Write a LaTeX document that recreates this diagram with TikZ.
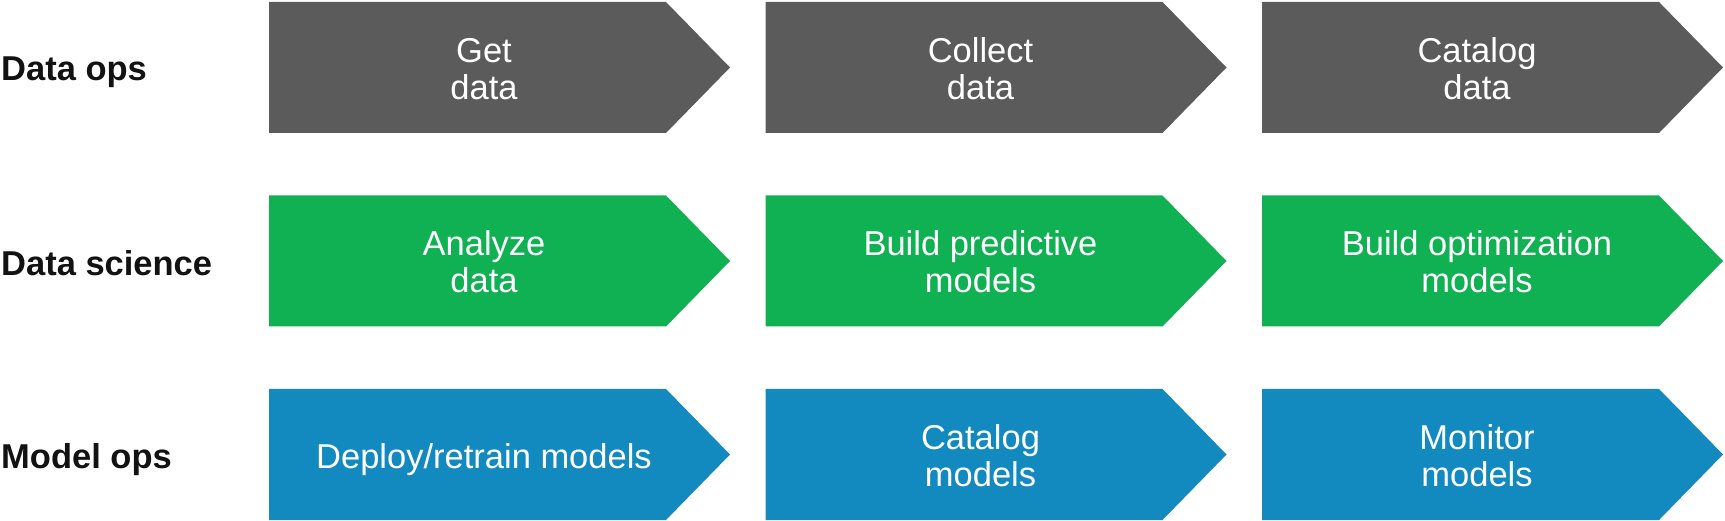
\documentclass[tikz,border=0pt]{standalone}
\usepackage{fontspec}
\setmainfont{Liberation Sans}
\definecolor{opsgray}{HTML}{5B5B5B}
\definecolor{scigreen}{HTML}{0FB152}
\definecolor{modblue}{HTML}{128ABF}
\begin{document}
\begin{tikzpicture}[x=1pt,y=-1pt,
    rowlabel/.style={anchor=west, font=\fontsize{34.5}{37}\selectfont\bfseries, text=black!93,
      inner sep=0pt, text depth=0pt},
    boxtext/.style={align=center, text=white, inner sep=0pt, text depth=0pt,
      font=\fontsize{34.5}{37}\selectfont}]
  \useasboundingbox (0,0) rectangle (1725,521);
  % 箭头形色块（三行三列）
  \foreach \y/\c in {2/opsgray, 195.5/scigreen, 389/modblue} {
    \foreach \x in {269, 765.5, 1262} {
      \fill[\c] (\x,\y) -- ++(397,0) -- ++(64,65.5) -- ++(-64,65.5) -- ++(-397,0) -- cycle;
    }
  }
  % 行标题
  \node[rowlabel] (dataops) at (1,69) {Data ops};
  \node[rowlabel] (datasci) at (1,263) {Data science};
  \node[rowlabel] (modelops) at (1,456) {Model ops};
  % 第一行
  \node[boxtext] (getdata) at (484,68.5) {Get\\data};
  \node[boxtext] (collectdata) at (980.5,68.5) {Collect\\data};
  \node[boxtext] (catdata) at (1477,68.5) {Catalog\\data};
  % 第二行
  \node[boxtext] (analyze) at (484,262) {Analyze\\data};
  \node[boxtext] (predictive) at (980.5,262) {Build predictive\\models};
  \node[boxtext] (optimize) at (1477,262) {Build optimization\\models};
  % 第三行
  \node[boxtext] (deploy) at (484,456) {Deploy/retrain models};
  \node[boxtext] (catmodels) at (980.5,455.5) {Catalog\\models};
  \node[boxtext] (monitor) at (1477,455.5) {Monitor\\models};
\end{tikzpicture}
\end{document}
